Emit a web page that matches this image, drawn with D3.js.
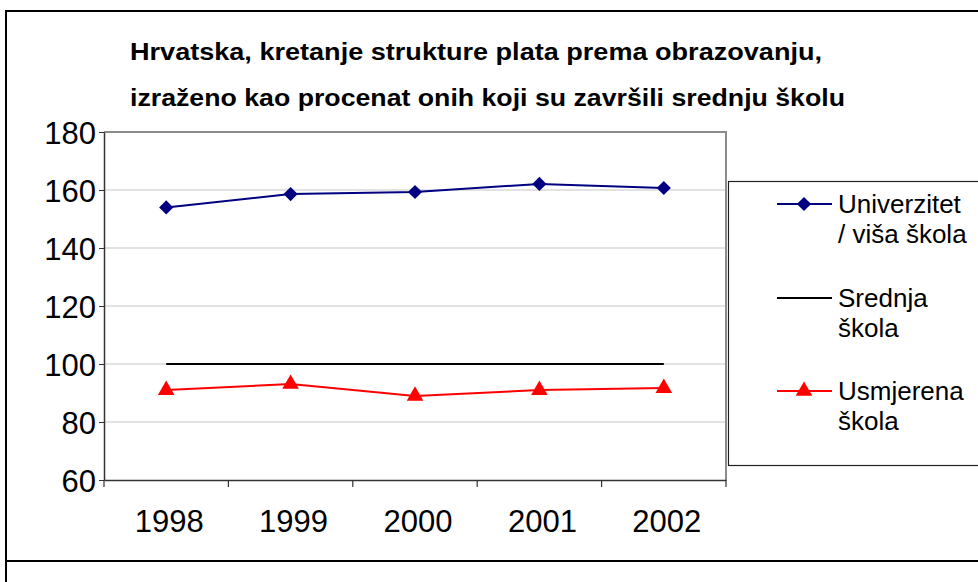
<!DOCTYPE html>
<html>
<head>
<meta charset="utf-8">
<script src="https://cdn.jsdelivr.net/npm/d3@7"></script>
<style>
  body { margin: 0; background: #fff; }
  svg { display: block; font-family: Arial, "Liberation Sans", sans-serif; }
</style>
</head>
<body>
<div id="chart"></div>
<script>
// data
const years = ['1998', '1999', '2000', '2001', '2002'];
const univerzitet = [154, 158.6, 159.3, 162.1, 160.7];
const srednja = [100, 100, 100, 100, 100];
const usmjerena = [91, 93.1, 89, 91, 91.7];
const yTicks = [60, 80, 100, 120, 140, 160, 180];
const titleLines = ['Hrvatska, kretanje strukture plata prema obrazovanju,',
                    'izraženo kao procenat onih koji su završili srednju školu'];
const legendLabels = [['Univerzitet', '/ viša škola'], ['Srednja', 'škola'], ['Usmjerena', 'škola']];

const W = 978, H = 582;
const plot = {left: 104, top: 132, right: 726, bottom: 480};

const svg = d3.select('#chart').append('svg')
    .attr('width', W).attr('height', H);

// outer frame
svg.append('path')
    .attr('d', `M${W + 5},11 H6 V${H + 5} M6,561 H${W + 5}`)
    .attr('fill', 'none').attr('stroke', '#000').attr('stroke-width', 2);

// title
svg.append('g').selectAll('text')
    .data(titleLines)
    .enter().append('text')
    .attr('x', 130)
    .attr('y', (d, i) => 60 + i * 46)
    .attr('textLength', (d, i) => i === 0 ? 692 : 715)
    .attr('lengthAdjust', 'spacingAndGlyphs')
    .style('font-size', '23px')
    .style('font-weight', 'bold')
    .text(d => d);

// scales
const x = d3.scaleBand().domain(years).range([plot.left, plot.right]);
const y = d3.scaleLinear().domain([60, 180]).range([plot.bottom, plot.top]);

// gridlines
svg.append('g').selectAll('line')
    .data(yTicks.slice(1, -1))
    .enter().append('line')
    .attr('x1', plot.left).attr('x2', plot.right)
    .attr('y1', d => y(d)).attr('y2', d => y(d))
    .attr('stroke', '#d9d9d9').attr('stroke-width', 1.5);

// plot border (top, right)
svg.append('path')
    .attr('d', `M${plot.left},${plot.top} H${plot.right} V${plot.bottom}`)
    .attr('fill', 'none').attr('stroke', '#8c8c8c').attr('stroke-width', 2);

// y axis
const yAxis = svg.append('g')
    .attr('transform', `translate(${plot.left},0)`)
    .call(d3.axisLeft(y).tickValues(yTicks).tickSize(5).tickSizeOuter(0));
yAxis.select('.domain').attr('stroke', '#333').attr('stroke-width', 1.5);
yAxis.selectAll('.tick line').attr('stroke', '#333');
yAxis.selectAll('text')
    .style('font-size', '31px')
    .style('font-family', 'Arial, "Liberation Sans", sans-serif')
    .attr('fill', '#000')
    .attr('x', -8).attr('dy', '0.36em');

// x axis
const xAxis = svg.append('g')
    .attr('transform', `translate(0,${plot.bottom})`)
    .call(d3.axisBottom(x).tickSize(0).tickSizeOuter(0));
xAxis.select('.domain').attr('stroke', '#333').attr('stroke-width', 1.5);
xAxis.selectAll('text')
    .style('font-size', '31px')
    .style('font-family', 'Arial, "Liberation Sans", sans-serif')
    .attr('fill', '#000')
    .attr('x', 3)
    .attr('y', 30).attr('dy', '0.71em');
// tick marks on band boundaries
svg.append('g').selectAll('line')
    .data(years.slice(1).concat(['end']))
    .enter().append('line')
    .attr('x1', d => d === 'end' ? plot.right : x(d))
    .attr('x2', d => d === 'end' ? plot.right : x(d))
    .attr('y1', plot.bottom).attr('y2', plot.bottom + 7)
    .attr('stroke', '#333').attr('stroke-width', 1.2);
svg.append('line')
    .attr('x1', plot.left).attr('x2', plot.left)
    .attr('y1', plot.bottom).attr('y2', plot.bottom + 7)
    .attr('stroke', '#333').attr('stroke-width', 1.2);

const cx = d => x(d) + x.bandwidth() / 2;
const line = d3.line().x((d, i) => cx(years[i])).y(d => y(d));

// diamond = square turned 45 degrees
const series = [
    {values: univerzitet, color: '#000080', symbol: d3.symbolSquare, size: 100, rotate: 45},
    {values: srednja, color: '#000000', symbol: null},
    {values: usmjerena, color: '#ff0000', symbol: d3.symbolTriangle, size: 120, rotate: 0}
];

series.forEach(s => {
    svg.append('path')
        .datum(s.values)
        .attr('fill', 'none')
        .attr('stroke', s.color)
        .attr('stroke-width', 2)
        .attr('d', line);
    if (s.symbol) {
        svg.append('g').selectAll('path')
            .data(s.values)
            .enter().append('path')
            .attr('transform', (d, i) => `translate(${cx(years[i])},${y(d)}) rotate(${s.rotate})`)
            .attr('d', d3.symbol().type(s.symbol).size(s.size))
            .attr('fill', s.color);
    }
});

// legend
const legend = svg.append('g');
legend.append('rect')
    .attr('x', 728.5).attr('y', 181.5)
    .attr('width', 300).attr('height', 284)
    .attr('fill', '#fff').attr('stroke', '#222').attr('stroke-width', 1.2);

const legendY = [204, 298, 391];
series.forEach((s, i) => {
    const g = legend.append('g').attr('transform', `translate(0,${legendY[i]})`);
    g.append('line')
        .attr('x1', 777).attr('x2', 832)
        .attr('y1', 0).attr('y2', 0)
        .attr('stroke', s.color).attr('stroke-width', 2);
    if (s.symbol) {
        g.append('path')
            .attr('transform', `translate(804,0) rotate(${s.rotate})`)
            .attr('d', d3.symbol().type(s.symbol).size(s.size))
            .attr('fill', s.color);
    }
    g.selectAll('text')
        .data(legendLabels[i])
        .enter().append('text')
        .attr('x', 838)
        .attr('y', (d, j) => j * 30)
        .attr('dy', '0.36em')
        .style('font-size', '26px')
        .text(d => d);
});
</script>
</body>
</html>
